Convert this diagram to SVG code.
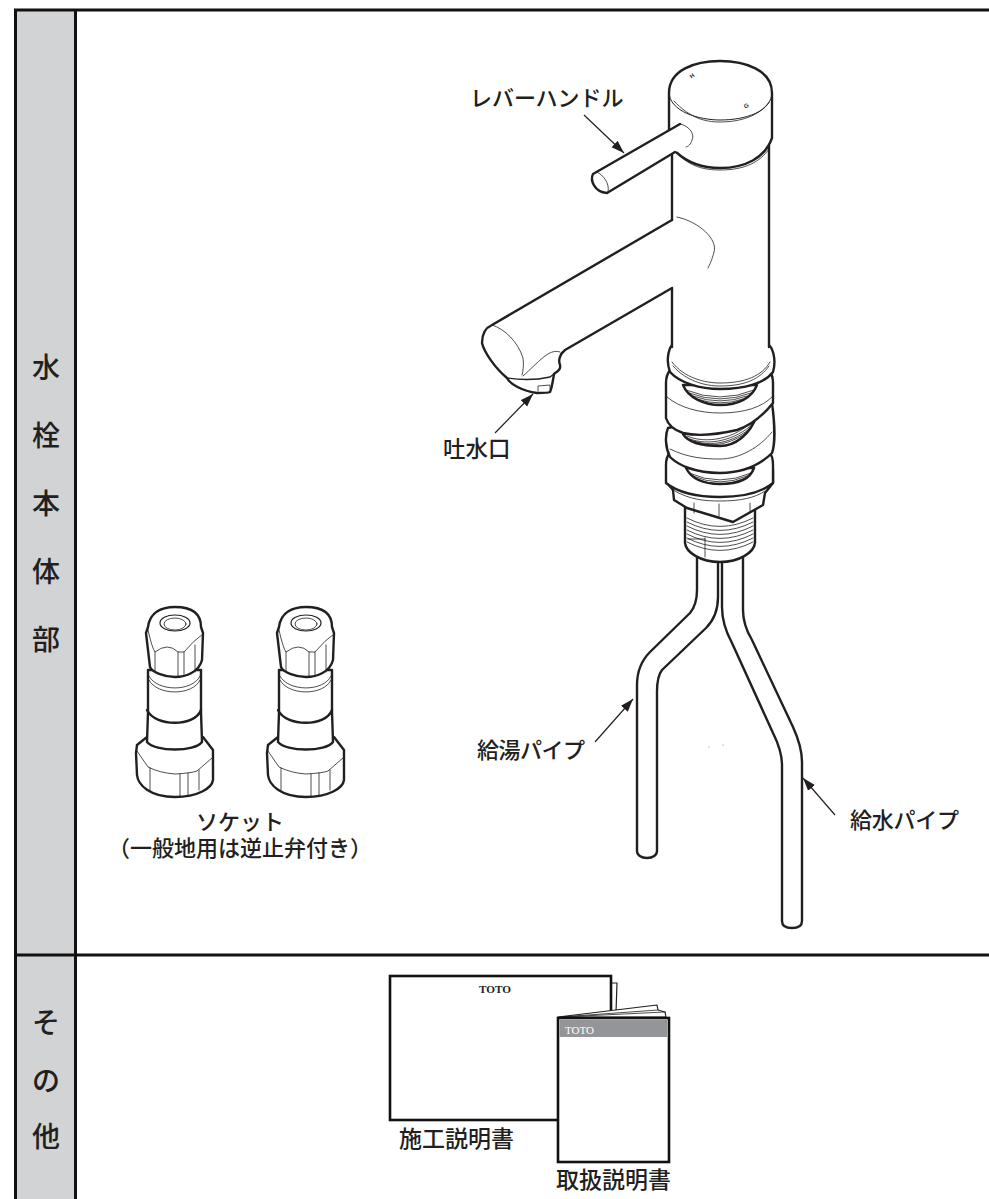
<svg xmlns="http://www.w3.org/2000/svg" width="989" height="1199" viewBox="0 0 989 1199">
<style>
text{font-family:"Noto Sans CJK JP","Noto Sans CJK SC",sans-serif;font-size:22px;fill:#231f20;font-weight:500}
.h{font-size:28px;text-anchor:middle}
.m{text-anchor:middle}
.b{font-size:23px}
.t{font-family:"Liberation Serif",serif;font-size:10px;font-weight:700}
.k{fill:#fff;stroke:#231f20;stroke-width:2.4;stroke-linejoin:round;stroke-linecap:round}
.n{fill:none;stroke:#231f20;stroke-width:2.4;stroke-linejoin:round;stroke-linecap:round}
.f{fill:none;stroke:#231f20;stroke-width:.8;stroke-linecap:round}
.a{fill:none;stroke:#231f20;stroke-width:1.2;marker-end:url(#ar)}
.fr{fill:none;stroke:#111;stroke-width:3}
.l{font-family:"Liberation Sans",sans-serif;font-size:6px;font-weight:700}
</style>
<defs>
<marker id="ar" markerUnits="userSpaceOnUse" markerWidth="14" markerHeight="10" refX="13" refY="5" orient="auto"><path d="M0,0.500 L13,5 L0,9.500 Z" fill="#231f20"/></marker>
<g id="sock">
<path class="k" d="M147,737 L137,745 L136,753 L137,775 C138,785 150,797 175,797 C198,797 212,788 213,780 L213,750 L203,737 Z"/>
<path class="f" d="M137,751 L148,767 Q160,773 175,774 Q192,773 197,771 L212,758 M150,768 L150,790 M180,774 L180,796 M188,773 L188,795 M199,770 L199,790"/>
<path class="k" d="M148,670 L148,712 L147,742 C155,752 195,752 202,742 L201,712 L201,670 Z"/>
<path class="n" d="M147,710 C155,727 195,727 201,710"/>
<path class="f" d="M149,676 C157,692 193,692 200,676 M149,680 C157,696 193,696 200,680"/>
<path class="k" d="M148,627 C150,612 162,607 175,607 C190,607 201,612 201,627 L203,633 L202,660 C199,672 186,677 175,677 C164,677 152,672 150,667 L146,633 Z"/>
<ellipse class="n" cx="175" cy="623" rx="15" ry="8" style="stroke-width:1.2"/>
<ellipse class="f" cx="175" cy="624" rx="11" ry="6"/>
<path class="f" d="M148,630 Q152,648 155,652 Q168,642 178,652 L184,652 Q194,640 203,634 M155,652 L155,672 M178,652 L178,676 M184,652 L184,676 M195,645 L195,672"/>
</g>
</defs>
<rect x="15.500" y="10" width="60" height="1189" fill="#d1d3d4"/>
<g id="frame">
<path class="fr" d="M989,10 H15.500 V1199 M75.500,10 V1199 M15.500,955 H989"/>
</g>
<g id="side-labels">
<text class="h" x="46" y="378">水</text>
<text class="h" x="46" y="446">栓</text>
<text class="h" x="46" y="514">本</text>
<text class="h" x="46" y="582">体</text>
<text class="h" x="46" y="650">部</text>
<text class="h" x="46" y="1033">そ</text>
<text class="h" x="46" y="1091">の</text>
<text class="h" x="46" y="1147">他</text>
</g>
<g id="faucet">
<!-- pipes -->
<path class="k" d="M722,555 V607 C722,620 726,632 732,643 L773,733 C779,745 782,755 782,765 V921 C782,926 786,928 792,928 C798,928 802,926 802,921 V762 C802,750 798,738 793,727 L752,640 C746,630 743,620 743,610 V555 Z"/>
<path class="k" d="M697,555 V590 C697,600 695,607 690,613 L650,652 C641,661 637,672 637,685 V851 C637,855 641,858 647,858 C653,858 657,855 657,851 V692 C657,682 658,675 662,670 L706,628 C714,620 718,610 718,597 V555 Z"/>
<!-- threaded stem -->
<path class="k" d="M685,505 V543 C686,552 700,562 720,562 C740,562 754,552 755,543 V505 Z"/>
<path class="f" d="M687,518 Q720,535 753,518 M687,522 Q720,539 753,522 M687,526 Q720,543 753,526 M687,530 Q720,547 753,530 M687,534 Q720,551 753,534 M687,538 Q720,555 753,538 M687,542 Q720,559 753,542 M705,538 V557 M688,539 L705,539"/>
<!-- hex flange -->
<path class="k" d="M667,470 V483 L673,490 L674,500 L687,508 L733,522 L763,505 L765,493 L773,483 V470 Z"/>
<path class="f" d="M673,490 C690,500 705,501 720,501 C740,501 755,498 765,491 M694,503 V513 M719,504 V516 M750,503 V511"/>
<!-- lower ring -->
<path class="k" d="M670,452 C667,456 666,460 666,465 V483 C680,494 700,497 720,497 C745,497 762,492 773,483 V465 C773,460 772,455 769,452 Z"/>
<path class="k" d="M686,468 C692,480 705,484 720,484 C738,484 750,480 754,468 Z"/>
<path class="f" d="M689,473 Q720,487 751,473 M693,476 Q720,488 747,476 M697,479 Q720,489 743,479"/>
<!-- tilted washer -->
<path class="k" d="M668,428 C665,435 665,447 670,457 C678,465 695,473 720,473 C745,473 762,463 772,453 C775,445 775,425 772,403 C750,412 700,420 668,428 Z"/>
<path class="f" d="M670,449 C688,458 705,459 720,459 C740,459 760,447 772,432"/>
<path class="k" d="M683,434 C688,442 700,446 720,446 C735,446 750,435 757,415 C735,425 705,432 683,434 Z"/>
<path class="f" d="M687,436 C705,444 735,440 755,419 M690,439 C708,446 735,441 754,423 M694,441 C710,447 733,443 752,427 M698,443 C712,447 730,445 749,431"/>
<!-- upper ring -->
<path class="k" d="M670,370 C667,374 666,378 666,383 V418 C668,425 674,430 683,433 C695,436 715,435 737,430 C752,425 765,413 773,403 V383 C773,378 772,374 769,370 Z"/>
<path class="f" d="M667,397 C680,408 700,413 720,413 C745,413 762,407 772,397"/>
<path class="k" d="M683,385 C688,398 705,405 720,405 C738,405 752,398 757,385 Z"/>
<path class="f" d="M686,390 Q720,404 754,390 M689,393 Q720,405 751,393 M693,396 Q720,406 747,396 M697,399 Q720,407 743,399"/>
<!-- flange -->
<path class="k" d="M672,345 C668,350 666,362 670,372 C680,383 700,389 720,389 C745,389 765,383 773,372 C776,362 774,350 769,345 Z"/>
<path class="f" d="M672,362 C684,378 705,383 720,383 C745,383 762,376 770,362 M673,366 C686,381 705,386 720,386 C745,386 760,379 769,366"/>
<!-- body -->
<rect x="672" y="140" width="97" height="212" fill="#fff"/>
<path class="n" d="M672,152 V220 M769,145 V347 M672,288 V347"/>
<!-- spout -->
<path d="M672,220 L492,325 L482,340 L507,378 L537,393 L554,375 L565,350 L672,288 Z" fill="#fff"/>
<path class="n" d="M672,220 L492,325 C485,328 482,335 482,343 C484,352 495,368 507,378 C510,384 522,391 537,393 C543,393 548,393 550,392 C552,388 553,380 554,374 C558,371 561,369 560,365 C558,360 560,354 565,350 L672,288"/>
<path class="n" d="M507,378 C520,380 537,380 550,377 L554,374" style="stroke-width:1.4"/>
<path class="f" d="M492,325 C505,329 518,342 523,358 C524,365 523,371 522,375 M523,376 C530,370 540,359 548,354 C553,351 557,351 560,352 M538,391 L538,386 L550,385 L550,389 M677,217 C700,222 718,240 714,252 C712,260 710,264 708,268"/>
<!-- cap -->
<path class="k" d="M669,93 V131 L676,152 C690,165 705,168 720,168 C745,168 765,158 772,138 V93 C772,70 745,61 720,61 C695,61 669,70 669,93 Z"/>
<path class="n" d="M669,92 C669,112 700,120 720,120 C745,120 772,112 772,92" style="stroke-width:1"/>
<path class="f" d="M674,101 C690,118 705,122 720,122 C745,122 762,113 769,102 M677,153 C690,167 705,170 720,170 C745,170 760,162 769,149"/>
<text class="l" x="690" y="78" transform="rotate(-35 692 76)">H</text>
<text class="l" x="744" y="108" transform="rotate(-35 746 106)">G</text>
<!-- lever -->
<path d="M667,131 L593,174 L607,193 L675,152 L690,147 L693,130 L680,124 Z" fill="#fff"/>
<path class="n" d="M680,124 L593,174 C590,180 594,192 607,193 L675,152"/>
<path class="f" d="M597,172 C603,175 610,183 608,192 M680,124 C690,126 695,135 692,140 C691,144 688,147 686,147"/>
</g>
<use id="socket-left" href="#sock"/>
<use id="socket-right" href="#sock" x="131"/>
<g id="manuals">
<path class="k" d="M611,983 H617 L616,1012 H610 Z" style="stroke-width:1.2"/>
<rect x="390" y="976" width="221" height="144" fill="#fff" stroke="#111" stroke-width="2.600"/>
<path class="k" d="M558,1017 L657,1005 L658,1010 L665,1012 L666,1017 Z" style="stroke-width:1.2"/>
<path class="f" d="M560,1017 L658,1010 M562,1017 L665,1012"/>
<rect x="558" y="1018" width="111" height="144" fill="#fff" stroke="#111" stroke-width="2.600"/>
<rect x="559.500" y="1019.500" width="108" height="17.500" fill="#939598"/>
<text class="t" x="479" y="993" textLength="32" lengthAdjust="spacingAndGlyphs">TOTO</text>
<text class="t" x="565" y="1034" textLength="29" lengthAdjust="spacingAndGlyphs" style="fill:#fff;font-weight:400">TOTO</text>
</g>
<g id="connectors">
<path class="a" d="M584,115 L624,153"/>
<path class="a" d="M495,433 L533,394"/>
<path class="a" d="M595,742 L633,699"/>
<path class="a" d="M835,815 L803,778"/>
</g>
<g id="dots"><circle cx="709" cy="747" r=".6" fill="#777"/><circle cx="723" cy="745" r=".6" fill="#777"/></g>
<g id="labels">
<text x="470" y="106">レバーハンドル</text>
<text x="443" y="457" class="b" style="font-size:22.500px">吐水口</text>
<text x="477" y="758" textLength="108">給湯パイプ</text>
<text x="850" y="828" textLength="109">給水パイプ</text>
<text class="m"><tspan x="240" y="830">ソケット</tspan><tspan x="240" y="856">（一般地用は逆止弁付き）</tspan></text>
<text x="399" y="1147" class="b">施工説明書</text>
<text x="556" y="1188" class="b">取扱説明書</text>
</g>
</svg>
